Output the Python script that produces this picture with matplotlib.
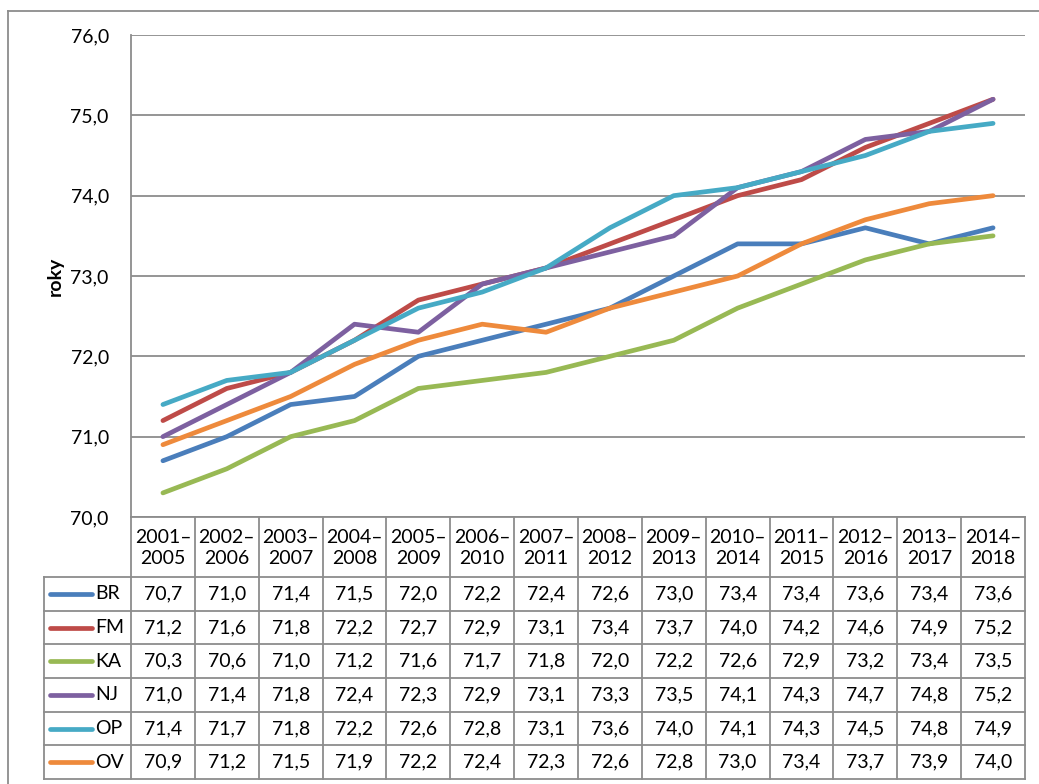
import numpy as np
import matplotlib
matplotlib.use("Agg")
import matplotlib.pyplot as plt
from matplotlib.lines import Line2D

plt.rcParams['font.family'] = ['Lato', 'DejaVu Sans']

periods = ["2001–\n2005", "2002–\n2006", "2003–\n2007", "2004–\n2008", "2005–\n2009",
           "2006–\n2010", "2007–\n2011", "2008–\n2012", "2009–\n2013", "2010–\n2014",
           "2011–\n2015", "2012–\n2016", "2013–\n2017", "2014–\n2018"]
names = ["BR", "FM", "KA", "NJ", "OP", "OV"]
br = [70.7, 71.0, 71.4, 71.5, 72.0, 72.2, 72.4, 72.6, 73.0, 73.4, 73.4, 73.6, 73.4, 73.6]
fm = [71.2, 71.6, 71.8, 72.2, 72.7, 72.9, 73.1, 73.4, 73.7, 74.0, 74.2, 74.6, 74.9, 75.2]
ka = [70.3, 70.6, 71.0, 71.2, 71.6, 71.7, 71.8, 72.0, 72.2, 72.6, 72.9, 73.2, 73.4, 73.5]
nj = [71.0, 71.4, 71.8, 72.4, 72.3, 72.9, 73.1, 73.3, 73.5, 74.1, 74.3, 74.7, 74.8, 75.2]
op = [71.4, 71.7, 71.8, 72.2, 72.6, 72.8, 73.1, 73.6, 74.0, 74.1, 74.3, 74.5, 74.8, 74.9]
ov = [70.9, 71.2, 71.5, 71.9, 72.2, 72.4, 72.3, 72.6, 72.8, 73.0, 73.4, 73.7, 73.9, 74.0]
series = [br, fm, ka, nj, op, ov]
colors = ["#4A7EBB", "#BE4B48", "#98B954", "#7D60A0", "#46AAC5", "#EE8A3C"]

W, H = 1039, 784
fig = plt.figure(figsize=(W / 100, H / 100), dpi=100)
grid_c = "#8C8C8C"

def fx(px):
    return px / W

def fy(py):
    return 1 - py / H

# outer chart frame (continues past the image edge)
fig.add_artist(Line2D([fx(8), fx(8)], [fy(11), fy(790)], color=grid_c, lw=1.3))
fig.add_artist(Line2D([fx(8), 1.0], [fy(11), fy(11)], color=grid_c, lw=1.3))

left, right, top, bottom, tbl_bottom = 131, 1025, 35, 517, 779
ax = fig.add_axes([fx(left), fy(bottom), fx(right - left), fy(top) - fy(bottom)])
x = np.arange(len(periods))
for vals, c in zip(series, colors):
    ax.plot(x, vals, color=c, lw=3.4, solid_capstyle="round", solid_joinstyle="round", zorder=3)

ax.set_xlim(-0.5, len(periods) - 0.5)
ax.set_ylim(70, 76)
ax.set_yticks(np.arange(70, 76.5, 1.0))
ax.set_yticklabels([f"{v:.1f}".replace(".", ",") for v in np.arange(70, 76.5, 1.0)], fontsize=14)
ax.tick_params(axis="y", length=0, pad=16)
ax.set_xticks([])
ax.grid(axis="y", color=grid_c, lw=1.3)
for s in ["top", "right"]:
    ax.spines[s].set_visible(False)
for s in ["left", "bottom"]:
    ax.spines[s].set_color(grid_c)
    ax.spines[s].set_linewidth(1.3)
ax.set_ylabel("roky", fontsize=14, fontweight="bold", labelpad=5)

# data table under the plot, sharing the category x scale
head_h = 60
row_h = (tbl_bottom - bottom - head_h) / len(names)
tax = fig.add_axes([fx(left), fy(tbl_bottom), fx(right - left), fy(bottom) - fy(tbl_bottom)])
tax.set_xlim(-0.5, len(periods) - 0.5)
tax.set_ylim(tbl_bottom - bottom, 0)
tax.axis("off")
col_w = (right - left) / len(periods)
leg_left = -0.5 - (left - 44) / col_w
tb = tbl_bottom - bottom

for i in range(len(periods) + 1):
    tax.plot([i - 0.5, i - 0.5], [0, tb], color=grid_c, lw=1.3, clip_on=False)
tax.plot([leg_left, leg_left], [head_h, tb], color=grid_c, lw=1.3, clip_on=False)
for k in range(len(names) + 1):
    yy = head_h + k * row_h
    tax.plot([leg_left, len(periods) - 0.5], [yy, yy], color=grid_c, lw=1.3, clip_on=False)

for i, p in enumerate(periods):
    tax.text(i, head_h / 2 + 1, p, ha="center", va="center", fontsize=14, linespacing=1.35)

for k, (nm, vals, c) in enumerate(zip(names, series, colors)):
    yc = head_h + (k + 0.5) * row_h
    tax.plot([leg_left + 0.1, leg_left + 0.75], [yc, yc], color=c, lw=3.4,
             solid_capstyle="round", clip_on=False)
    tax.text(leg_left + 0.8, yc, nm, ha="left", va="center", fontsize=14)
    for i, v in enumerate(vals):
        tax.text(i, yc, f"{v:.1f}".replace(".", ","), ha="center", va="center", fontsize=14)

fig.savefig("out.png", dpi=100)
